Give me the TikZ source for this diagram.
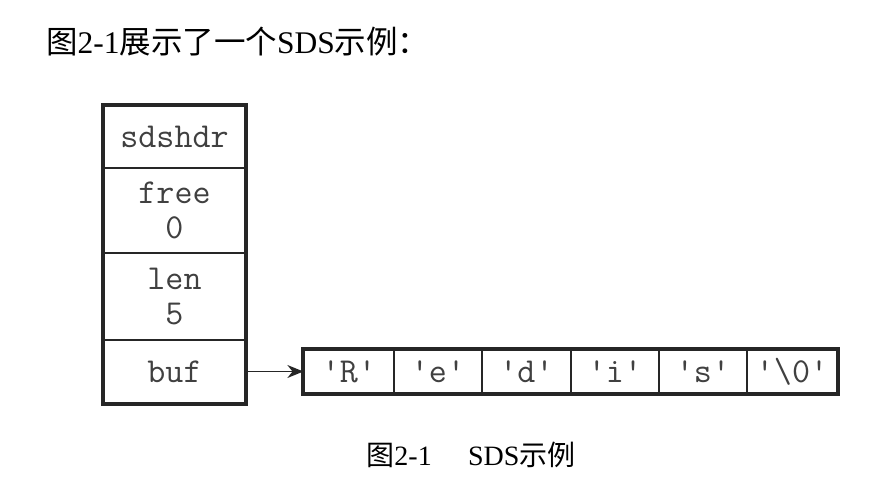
\documentclass[tikz,border=0pt]{standalone}
\usepackage{fontspec}
\setmainfont{Liberation Serif}
\newfontfamily\cjk{Noto Sans CJK SC}
\usetikzlibrary{arrows.meta}
\begin{document}
\begin{tikzpicture}[x=1pt,y=-1pt,
  cell/.style={draw=black!85, line width=1.3pt, inner sep=0pt, align=center,
    font=\fontsize{35}{35}\selectfont\ttfamily, text=black!75},
  col/.style={cell, minimum width=141pt},
  arr/.style={cell, minimum height=43pt},
  heading/.style={inner sep=0pt, font=\fontsize{31.5}{36}\selectfont, text=black},
  capt/.style={inner sep=0pt, font=\fontsize{28}{32}\selectfont, text=black}]
\useasboundingbox[fill=white] (0,0) rectangle (895,488);
\node[heading, anchor=west] (title) at (46,42) {{\cjk 图}2-1{\cjk 展示了一个}SDS{\cjk 示例：}};
% column
\node[col, minimum height=62pt] (sdshdr) at (174.5,137) {sdshdr};
\node[col, minimum height=85pt] (free) at (174.5,210.5) {free\\0};
\node[col, minimum height=87pt] (len) at (174.5,296.5) {len\\5};
\node[col, minimum height=63pt] (buf) at (174.5,371.5) {buf};
\draw[line width=4pt, draw=black!85] (sdshdr.north west) rectangle (buf.south east);
% array
\node[arr, minimum width=90pt] (c1) at (349,371.5) {'R'};
\node[arr, minimum width=88pt] (c2) at (438,371.5) {'e'};
\node[arr, minimum width=89pt] (c3) at (526.5,371.5) {'d'};
\node[arr, minimum width=88pt] (c4) at (615,371.5) {'i'};
\node[arr, minimum width=88pt] (c5) at (703,371.5) {'s'};
\node[arr, minimum width=90pt] (c6) at (792,371.5) {'\textbackslash 0'};
\draw[line width=4pt, draw=black!85] (c1.north west) rectangle (c6.south east);
\draw[line width=1.2pt, draw=black!85, -{Stealth[length=16pt,width=13pt]}] (buf.east) -- (c1.west);
\node[capt] (caption) at (471,455) {{\cjk 图}2-1\hspace{1.3em}SDS{\cjk 示例}};
\end{tikzpicture}
\end{document}
